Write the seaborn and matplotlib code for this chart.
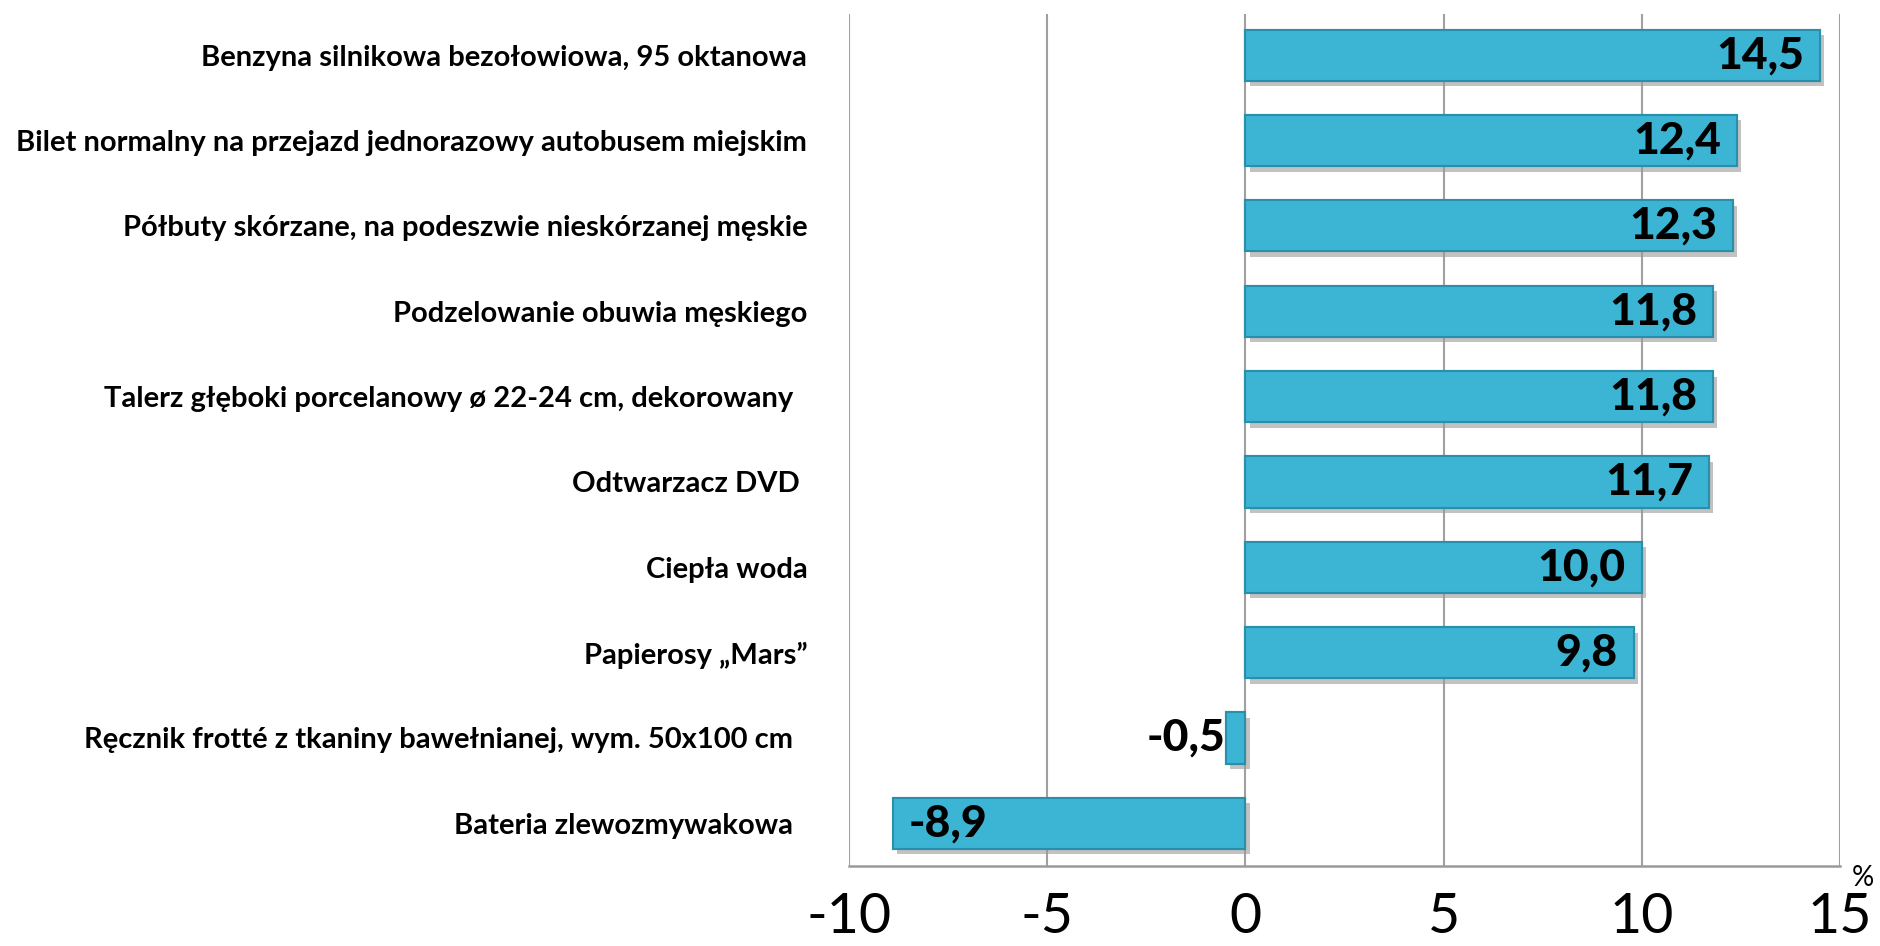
import matplotlib
matplotlib.use('Agg')
import matplotlib.pyplot as plt
import matplotlib.patheffects as pe
import seaborn as sns
import pandas as pd

categories = [
    'Benzyna silnikowa bezołowiowa, 95 oktanowa',
    'Bilet normalny na przejazd jednorazowy autobusem miejskim',
    'Półbuty skórzane, na podeszwie nieskórzanej męskie',
    'Podzelowanie obuwia męskiego',
    'Talerz głęboki porcelanowy ø 22-24 cm, dekorowany  ',
    'Odtwarzacz DVD ',
    'Ciepła woda',
    'Papierosy „Mars”',
    'Ręcznik frotté z tkaniny bawełnianej, wym. 50x100 cm  ',
    'Bateria zlewozmywakowa  ',
]
values = [14.5, 12.4, 12.3, 11.8, 11.8, 11.7, 10.0, 9.8, -0.5, -8.9]
x_ticks = [-10, -5, 0, 5, 10, 15]

df = pd.DataFrame({'item': categories, 'change': values})

sns.set_style('white')
plt.rcParams['font.family'] = ['Lato', 'DejaVu Sans']
plt.rcParams['text.color'] = 'black'
plt.rcParams['xtick.color'] = 'black'
plt.rcParams['ytick.color'] = 'black'

fig = plt.figure(figsize=(18.8, 9.46), dpi=100)
ax = fig.add_axes([0.4516, 0.0846, 0.5271, 0.9004])

sns.barplot(data=df, x='change', y='item', orient='h', color='#3CB4D4',
            width=0.6, saturation=1, edgecolor='#2A8FA9', linewidth=1.5, ax=ax)

for bar in ax.patches:
    bar.set_path_effects([pe.withSimplePatchShadow(offset=(3, -4), shadow_rgbFace='#9a9a9a', alpha=0.6),
                          pe.Normal()])
    bar.set_zorder(3)

ax.set_xlim(-10, 15)
ax.set_ylim(9.5, -0.48)
ax.set_xticks(x_ticks)
ax.set_xticklabels([str(t) for t in x_ticks], fontsize=40)
ax.set_xlabel('')
ax.set_ylabel('')

ax.set_yticks(range(len(categories)))
ax.set_yticklabels(categories, fontsize=21, fontweight='bold')
ax.tick_params(axis='y', length=0, pad=30)
ax.tick_params(axis='x', direction='out', length=11, width=1.5, color='#9a9a9a', pad=8)

ax.grid(axis='x', color='#a0a0a0', linewidth=1.5, zorder=0)
ax.set_axisbelow(True)
for side in ['top', 'right', 'left']:
    ax.spines[side].set_visible(False)
ax.spines['bottom'].set_color('#9a9a9a')
ax.spines['bottom'].set_linewidth(1.8)

# data labels
for i, v in enumerate(values):
    label = f'{v:.1f}'.replace('.', ',')
    if v >= 5:
        ax.text(v - 0.4, i, label, ha='right', va='center', fontsize=32, fontweight='black', zorder=5)
    elif v < -5:
        ax.text(v + 0.4, i, label, ha='left', va='center', fontsize=32, fontweight='black', zorder=5)
    else:
        ax.text(v, i, label, ha='right', va='center', fontsize=32, fontweight='black', zorder=5)

fig.text(0.997, 0.058, '%', fontsize=20, ha='right', va='bottom')

fig.savefig('out.png', dpi=100)
